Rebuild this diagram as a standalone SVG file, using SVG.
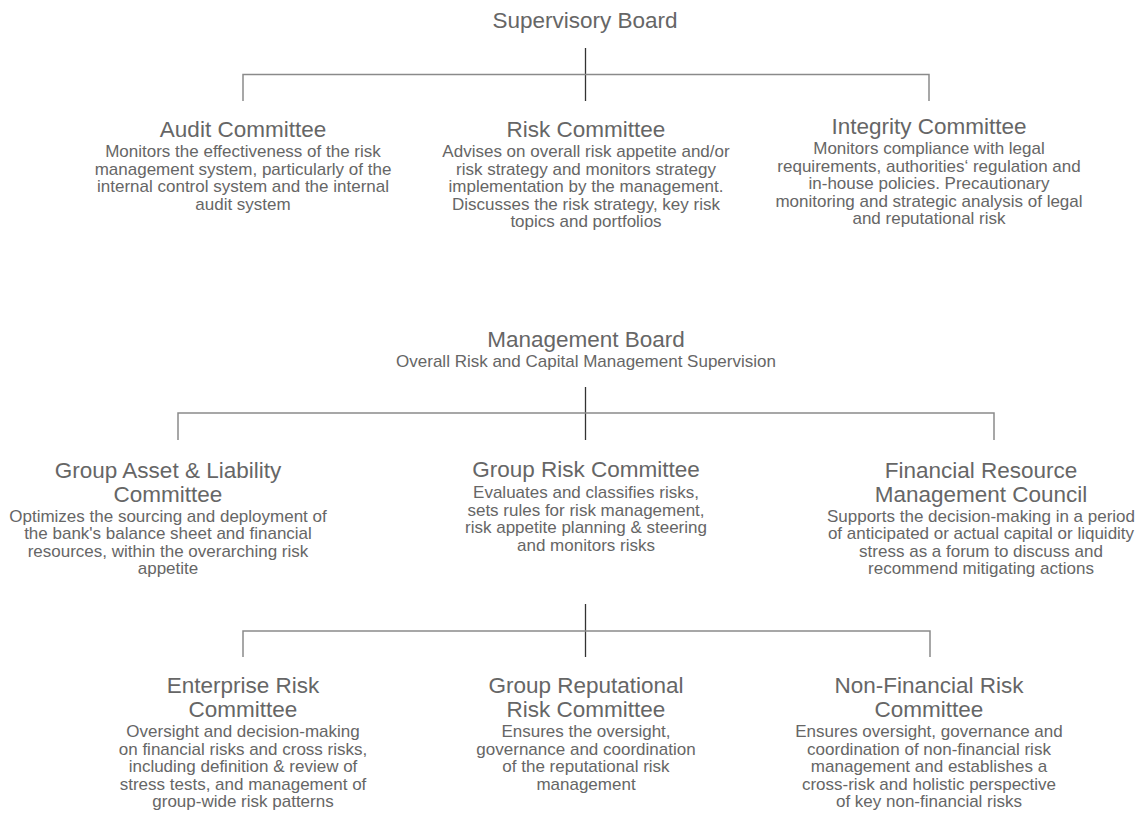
<svg xmlns="http://www.w3.org/2000/svg" width="1139" height="817" viewBox="0 0 1139 817">
<style>
.t{font-family:"Liberation Sans",Arial,sans-serif;font-size:22.5px;fill:#666;text-anchor:middle}
.d{font-family:"Liberation Sans",Arial,sans-serif;font-size:17px;fill:#666;text-anchor:middle}
.trunk{stroke:#333;stroke-width:1.3;fill:none}
.bus{stroke:#8a8a8a;stroke-width:1.5;fill:none}
</style>
<rect width="1139" height="817" fill="#fff"/>
<g id="connectors">
<path class="trunk" d="M585.5 48V101"/>
<path class="bus" d="M243 101V74.5H929V101"/>
<path class="trunk" d="M585.5 387V440"/>
<path class="bus" d="M178 440V413H994V440"/>
<path class="trunk" d="M585.5 604V657"/>
<path class="bus" d="M243 657V631H930V657"/>
</g>
<g id="supervisory-board"><text class="t" x="585" y="28">Supervisory Board</text></g>
<g id="audit-committee">
<text class="t" x="243" y="137">Audit Committee</text>
<text class="d" x="243" y="157">Monitors the effectiveness of the risk</text>
<text class="d" x="243" y="174.5">management system, particularly of the</text>
<text class="d" x="243" y="192">internal control system and the internal</text>
<text class="d" x="243" y="209.5">audit system</text>
</g>
<g id="risk-committee">
<text class="t" x="586" y="137">Risk Committee</text>
<text class="d" x="586" y="157">Advises on overall risk appetite and/or</text>
<text class="d" x="586" y="174.5">risk strategy and monitors strategy</text>
<text class="d" x="586" y="192">implementation by the management.</text>
<text class="d" x="586" y="209.5">Discusses the risk strategy, key risk</text>
<text class="d" x="586" y="227">topics and portfolios</text>
</g>
<g id="integrity-committee">
<text class="t" x="929" y="134">Integrity Committee</text>
<text class="d" x="929" y="154">Monitors compliance with legal</text>
<text class="d" x="929" y="171.5">requirements, authorities‘ regulation and</text>
<text class="d" x="929" y="189">in-house policies. Precautionary</text>
<text class="d" x="929" y="206.5">monitoring and strategic analysis of legal</text>
<text class="d" x="929" y="224">and reputational risk</text>
</g>
<g id="management-board">
<text class="t" x="586" y="347">Management Board</text>
<text class="d" x="586" y="367">Overall Risk and Capital Management Supervision</text>
</g>
<g id="group-alco">
<text class="t" x="168" y="478">Group Asset &amp; Liability</text>
<text class="t" x="168" y="501.5">Committee</text>
<text class="d" x="168" y="521.5">Optimizes the sourcing and deployment of</text>
<text class="d" x="168" y="539">the bank's balance sheet and financial</text>
<text class="d" x="168" y="556.5">resources, within the overarching risk</text>
<text class="d" x="168" y="574">appetite</text>
</g>
<g id="group-risk-committee">
<text class="t" x="586" y="477">Group Risk Committee</text>
<text class="d" x="586" y="498">Evaluates and classifies risks,</text>
<text class="d" x="586" y="515.5">sets rules for risk management,</text>
<text class="d" x="586" y="533">risk appetite planning &amp; steering</text>
<text class="d" x="586" y="550.5">and monitors risks</text>
</g>
<g id="financial-resource-council">
<text class="t" x="981" y="478">Financial Resource</text>
<text class="t" x="981" y="501.5">Management Council</text>
<text class="d" x="981" y="521.5">Supports the decision-making in a period</text>
<text class="d" x="981" y="539">of anticipated or actual capital or liquidity</text>
<text class="d" x="981" y="556.5">stress as a forum to discuss and</text>
<text class="d" x="981" y="574">recommend mitigating actions</text>
</g>
<g id="enterprise-risk-committee">
<text class="t" x="243" y="693">Enterprise Risk</text>
<text class="t" x="243" y="716.5">Committee</text>
<text class="d" x="243" y="737">Oversight and decision-making</text>
<text class="d" x="243" y="754.5">on financial risks and cross risks,</text>
<text class="d" x="243" y="772">including definition &amp; review of</text>
<text class="d" x="243" y="789.5">stress tests, and management of</text>
<text class="d" x="243" y="807">group-wide risk patterns</text>
</g>
<g id="group-reputational-risk-committee">
<text class="t" x="586" y="693">Group Reputational</text>
<text class="t" x="586" y="716.5">Risk Committee</text>
<text class="d" x="586" y="737">Ensures the oversight,</text>
<text class="d" x="586" y="754.5">governance and coordination</text>
<text class="d" x="586" y="772">of the reputational risk</text>
<text class="d" x="586" y="789.5">management</text>
</g>
<g id="non-financial-risk-committee">
<text class="t" x="929" y="693">Non-Financial Risk</text>
<text class="t" x="929" y="716.5">Committee</text>
<text class="d" x="929" y="737">Ensures oversight, governance and</text>
<text class="d" x="929" y="754.5">coordination of non-financial risk</text>
<text class="d" x="929" y="772">management and establishes a</text>
<text class="d" x="929" y="789.5">cross-risk and holistic perspective</text>
<text class="d" x="929" y="807">of key non-financial risks</text>
</g>
</svg>
